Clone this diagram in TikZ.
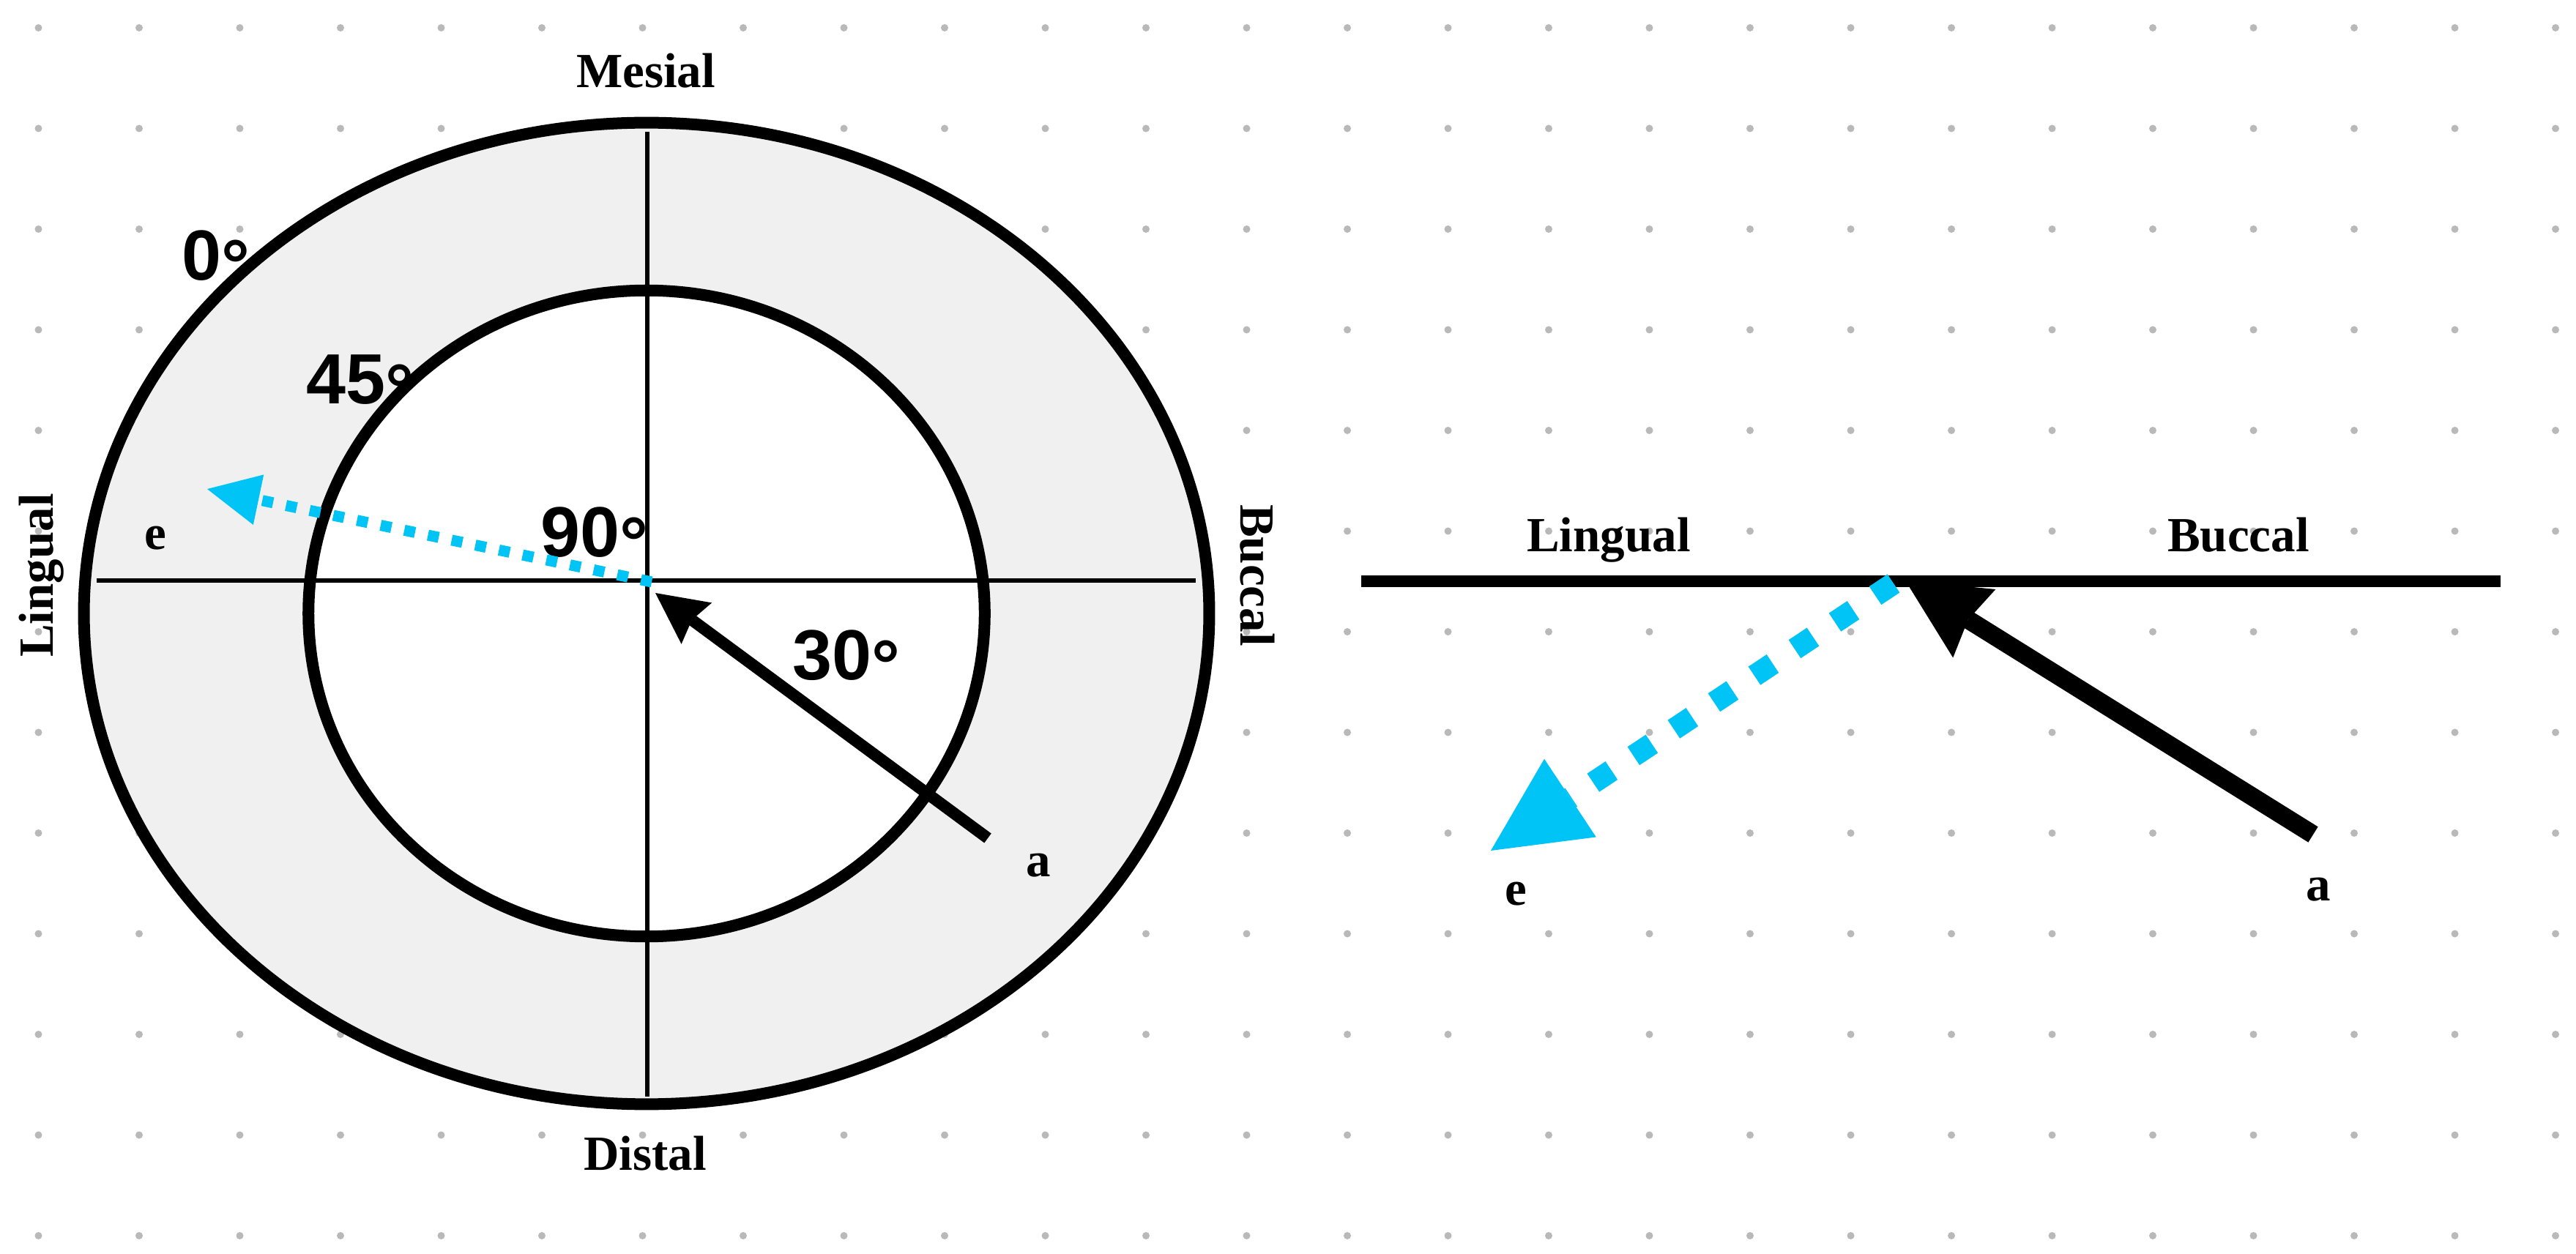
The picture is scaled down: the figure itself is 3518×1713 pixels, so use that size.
\documentclass[tikz,border=0pt]{standalone}
\usepackage{fontspec}
\setmainfont{Liberation Serif}
\newfontfamily\degfont{Liberation Sans}
\usetikzlibrary{arrows.meta}
\definecolor{cyanarrow}{RGB}{0,196,245}
\definecolor{ringgray}{RGB}{240,240,240}
\definecolor{dotgray}{RGB}{185,185,185}
\newcommand\degsym{\raisebox{-0.13cm}{°}}
\begin{document}
\begin{tikzpicture}[x=0.01cm, y=-0.01cm,
  lbl/.style={font=\fontsize{19.06pt}{22pt}\selectfont\bfseries, inner sep=0pt, anchor=base},
  deg/.style={font=\degfont\fontsize{27.6pt}{30pt}\selectfont\bfseries, inner sep=0pt, anchor=base west},
  thinline/.style={line width=0.06cm, black},
  ringline/.style={line width=0.16cm, black},
  blackarrowL/.style={line width=0.16cm, -{Stealth[length=0.70cm, width=0.70cm, inset=0.08cm, line width=0pt]}},
  blackarrowR/.style={line width=0.25cm, -{Stealth[length=1.11cm, width=1.10cm, inset=0.10cm, line width=0pt]}},
  cyandotL/.style={cyanarrow, line width=0.15cm, dash pattern=on 0.15cm off 0.18cm, -{Triangle[length=0.715cm, width=0.70cm, line width=0pt]}},
  cyandotR/.style={cyanarrow, line width=0.30cm, dash pattern=on 0.30cm off 0.36cm, -{Triangle[length=1.30cm, width=1.28cm, line width=0pt]}}
]
\useasboundingbox (0,0) rectangle (3518,1713);
\fill[white] (0,0) rectangle (3518,1713);
% dot grid
\foreach \i in {0,...,25}{\foreach \j in {0,...,12}{\fill[dotgray] ({52.5+137.5*\i},{38+137.5*\j}) circle (0.05cm);}}

% ---------- left panel ----------
\coordinate (C) at (883,838);
\fill[ringgray] (C) ellipse [x radius=7.68cm, y radius=6.70cm];
\fill[white] (C) ellipse [x radius=4.615cm, y radius=4.41cm];
\coordinate (vT) at (884,180);
\coordinate (vB) at (884,1498);
\coordinate (hL) at (132,793);
\coordinate (hR) at (1633,793);
\draw[thinline] (vT) -- (vB);
\draw[thinline] (hL) -- (hR);
\draw[ringline] (C) ellipse [x radius=7.68cm, y radius=6.70cm];
\draw[ringline] (C) ellipse [x radius=4.615cm, y radius=4.41cm];

\node[lbl] (mesial) at (882,120) {Mesial};
\node[lbl] (distal) at (881,1598) {Distal};
\node[lbl, rotate=90] (lingualL) at (72,786) {Lingual};
\node[lbl, rotate=-90] (buccalL) at (1694,786) {Buccal};
\node[lbl] (eLlbl) at (212,751) {e};
\node[lbl] (aLlbl) at (1418,1197) {a};

\node[deg] (d0) at (248,383) {0\degsym};
\node[deg] (d45) at (418,552) {45\degsym};
\node[deg] (d90) at (738,761) {90\degsym};
\node[deg] (d30) at (1082,929) {30\degsym};

\coordinate (oL) at (890,795);
\coordinate (eL) at (283,668);
\coordinate (aL) at (1349,1145);
\coordinate (tipL) at (895,810);
\draw[cyandotL] (oL) -- (eL);
\draw[blackarrowL] (aL) -- (tipL);

% ---------- right panel ----------
\coordinate (sL) at (1859,794);
\coordinate (sR) at (3415,794);
\draw[line width=0.16cm] (sL) -- (sR);
\node[lbl] (lingualR) at (2197,754) {Lingual};
\node[lbl] (buccalR) at (3057,754) {Buccal};
\node[lbl] (eRlbl) at (2070,1236) {e};
\node[lbl] (aRlbl) at (3166,1230) {a};

\coordinate (oR) at (2586,797);
\coordinate (eR) at (2036,1162);
\coordinate (aR) at (3159,1140);
\coordinate (tipR) at (2602,793);
\draw[cyandotR] (oR) -- (eR);
\draw[blackarrowR] (aR) -- (tipR);
\end{tikzpicture}
\end{document}
